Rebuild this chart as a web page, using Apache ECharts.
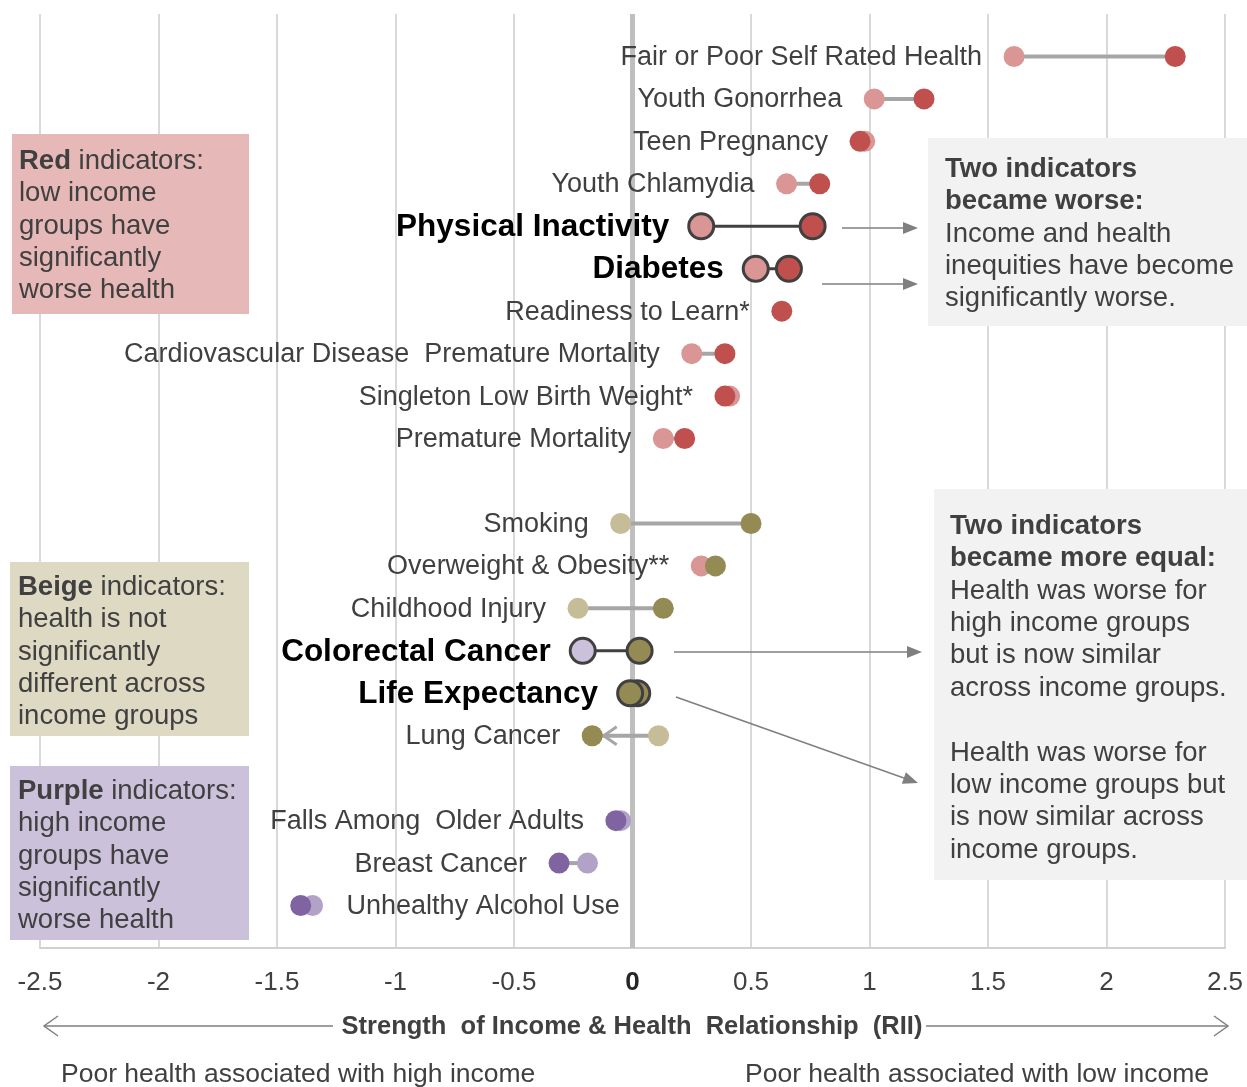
<!DOCTYPE html>
<html>
<head>
    <meta charset="utf-8">
    <title>Income & Health Relationship</title>
    <script src="https://cdn.jsdelivr.net/npm/echarts@6/dist/echarts.min.js"></script>
    <style>
        html, body { margin: 0; padding: 0; background: #fff; }
        #main { width: 1247px; height: 1087px; }
    </style>
</head>
<body>
<div id="main"></div>
<script type="text/javascript">
    // rows top to bottom, '' = empty gap row
    var indicators = ['Fair or Poor Self Rated Health', 'Youth Gonorrhea', 'Teen Pregnancy', 'Youth Chlamydia',
        'Physical Inactivity', 'Diabetes', 'Readiness to Learn*', 'Cardiovascular Disease  Premature Mortality',
        'Singleton Low Birth Weight*', 'Premature Mortality', '', 'Smoking', 'Overweight & Obesity**',
        'Childhood Injury', 'Colorectal Cancer', 'Life Expectancy', 'Lung Cancer', '',
        'Falls Among  Older Adults', 'Breast Cancer', 'Unhealthy Alcohol Use'];
    // RII, earlier period (light dot) and recent period (dark dot)
    var earlier = [1.61, 1.02, 0.98, 0.65, 0.29, 0.52, null, 0.25, 0.41, 0.13, null,
        -0.05, 0.29, -0.23, -0.21, 0.02, 0.11, null, -0.05, -0.19, -1.35];
    var recent = [2.29, 1.23, 0.96, 0.79, 0.76, 0.66, 0.63, 0.39, 0.39, 0.22, null,
        0.50, 0.35, 0.13, 0.03, -0.01, -0.17, null, -0.07, -0.31, -1.40];
    var earlierTone = ['redLight', 'redLight', 'redLight', 'redLight', 'redLight', 'redLight', null, 'redLight',
        'redLight', 'redLight', null, 'beigeLight', 'redLight', 'beigeLight', 'lilac', 'beigeDark', 'beigeLight',
        null, 'purpleLight', 'purpleLight', 'purpleLight'];
    var recentTone = ['redDark', 'redDark', 'redDark', 'redDark', 'redDark', 'redDark', 'redDark', 'redDark',
        'redDark', 'redDark', null, 'beigeDark', 'beigeDark', 'beigeDark', 'beigeDark', 'beigeDark', 'beigeDark',
        null, 'purpleDark', 'purpleDark', 'purpleDark'];
    var highlighted = ['Physical Inactivity', 'Diabetes', 'Colorectal Cancer', 'Life Expectancy'];
    var arrowRows = ['Lung Cancer'];
    var labelOnRight = ['Unhealthy Alcohol Use'];

    var palette = {
        redLight: '#d99694', redDark: '#c0504d',
        beigeLight: '#c4bd97', beigeDark: '#948a54',
        purpleLight: '#b3a2c7', purpleDark: '#8064a2', lilac: '#ccc1da'
    };
    var FONT = "'Liberation Sans', Arial, sans-serif";
    var TEXT = '#404040';

    var rows = [];
    indicators.forEach(function (name, i) {
        if (name) rows.push([recent[i] != null ? recent[i] : earlier[i], i]);
    });

    function renderRow(params, api) {
        var i = api.value(1);
        var name = indicators[i];
        var y = api.coord([0, i])[1];
        var bold = highlighted.indexOf(name) >= 0;
        var r = bold ? 12.5 : 10.5;
        var pts = [];
        if (earlier[i] != null) pts.push({x: api.coord([earlier[i], i])[0], tone: earlierTone[i]});
        if (recent[i] != null) pts.push({x: api.coord([recent[i], i])[0], tone: recentTone[i]});
        var children = [];
        if (pts.length === 2) {
            children.push({
                type: 'line',
                shape: {x1: pts[0].x, y1: y, x2: pts[1].x, y2: y},
                style: {stroke: bold ? '#404040' : '#a6a6a6', lineWidth: bold ? 3 : 4}
            });
            if (arrowRows.indexOf(name) >= 0) {
                var dir = pts[1].x > pts[0].x ? 1 : -1;
                var tip = pts[1].x - dir * (r + 1);
                children.push({
                    type: 'polyline',
                    shape: {points: [[tip - dir * 13, y - 9], [tip, y], [tip - dir * 13, y + 9]]},
                    style: {stroke: '#a6a6a6', lineWidth: 3, fill: null}
                });
            }
        }
        pts.forEach(function (p) {
            children.push({
                type: 'circle',
                shape: {cx: p.x, cy: y, r: r},
                style: {fill: palette[p.tone], stroke: bold ? '#404040' : null, lineWidth: bold ? 3 : 0}
            });
        });
        var xs = pts.map(function (p) { return p.x; });
        var right = labelOnRight.indexOf(name) >= 0;
        children.push({
            type: 'text',
            style: {
                text: name,
                x: right ? Math.max.apply(null, xs) + 34 : Math.min.apply(null, xs) - 32,
                y: y + 1,
                align: right ? 'left' : 'right',
                verticalAlign: 'middle',
                fontFamily: FONT,
                fontSize: bold ? 31.5 : 27,
                fontWeight: bold ? 'bold' : 'normal',
                fill: bold ? '#000' : TEXT
            }
        });
        return {type: 'group', children: children};
    }

    function boxText(x, y, text) {
        return {
            type: 'text', x: x, y: y, z: 101,
            style: {
                text: text, fontFamily: FONT, fontSize: 27.5, lineHeight: 32.4, fill: TEXT,
                verticalAlign: 'top',
                rich: {b: {fontFamily: FONT, fontSize: 27.5, lineHeight: 32.4, fontWeight: 'bold', fill: TEXT}}
            }
        };
    }

    function box(x, y, w, h, color) {
        return {type: 'rect', z: 100, shape: {x: x, y: y, width: w, height: h}, style: {fill: color}};
    }

    function arrow(x1, y1, x2, y2) {
        var a = Math.atan2(y2 - y1, x2 - x1), L = 15, W = 6;
        var bx = x2 - L * Math.cos(a), by = y2 - L * Math.sin(a);
        return [{
            type: 'line', z: 100, shape: {x1: x1, y1: y1, x2: bx, y2: by},
            style: {stroke: '#7f7f7f', lineWidth: 1.5}
        }, {
            type: 'polygon', z: 100,
            shape: {points: [[x2, y2], [bx - W * Math.sin(a), by + W * Math.cos(a)], [bx + W * Math.sin(a), by - W * Math.cos(a)]]},
            style: {fill: '#7f7f7f'}
        }];
    }

    var graphics = [
        box(12, 134, 237, 180, '#e6b9b8'),
        boxText(19, 145, '{b|Red} indicators:\nlow income\ngroups have\nsignificantly\nworse health'),
        box(10, 562, 239, 174, '#ddd9c3'),
        boxText(18, 571, '{b|Beige} indicators:\nhealth is not\nsignificantly\ndifferent across\nincome groups'),
        box(10, 766, 239, 174, '#ccc1da'),
        boxText(18, 775, '{b|Purple} indicators:\nhigh income\ngroups have\nsignificantly\nworse health'),
        box(928, 138, 319, 188, '#f2f2f2'),
        boxText(945, 153, '{b|Two indicators}\n{b|became worse:}\nIncome and health\ninequities have become\nsignificantly worse.'),
        box(934, 489, 313, 391, '#f2f2f2'),
        boxText(950, 510, '{b|Two indicators}\n{b|became more equal:}\nHealth was worse for\nhigh income groups\nbut is now similar\nacross income groups.\n\nHealth was worse for\nlow income groups but\nis now similar across\nincome groups.'),
        {
            type: 'text', x: 632, y: 1027, z: 100,
            style: {text: 'Strength  of Income & Health  Relationship  (RII)', fontFamily: FONT, fontSize: 25.5,
                fontWeight: 'bold', fill: TEXT, align: 'center', verticalAlign: 'middle'}
        },
        {type: 'line', z: 100, shape: {x1: 44, y1: 1026, x2: 333, y2: 1026}, style: {stroke: '#7f7f7f', lineWidth: 1.5}},
        {type: 'line', z: 100, shape: {x1: 926, y1: 1026, x2: 1228, y2: 1026}, style: {stroke: '#7f7f7f', lineWidth: 1.5}},
        {type: 'polyline', z: 100, shape: {points: [[58, 1016], [44, 1026], [58, 1036]]}, style: {stroke: '#7f7f7f', lineWidth: 1.5, fill: null}},
        {type: 'polyline', z: 100, shape: {points: [[1214, 1016], [1228, 1026], [1214, 1036]]}, style: {stroke: '#7f7f7f', lineWidth: 1.5, fill: null}},
        {
            type: 'text', x: 61, y: 1075, z: 100,
            style: {text: 'Poor health associated with high income', fontFamily: FONT, fontSize: 26.5, fill: TEXT, verticalAlign: 'middle'}
        },
        {
            type: 'text', x: 745, y: 1075, z: 100,
            style: {text: 'Poor health associated with low income', fontFamily: FONT, fontSize: 26.5, fill: TEXT, verticalAlign: 'middle'}
        }
    ]
        .concat(arrow(842, 228, 918, 228))
        .concat(arrow(822, 284, 918, 284))
        .concat(arrow(674, 652, 922, 652))
        .concat(arrow(676, 697, 918, 783));

    var myChart = echarts.init(document.getElementById('main'));
    var option = {
        animation: false,
        backgroundColor: '#fff',
        grid: {left: 40, right: 22, top: 14, bottom: 139},
        xAxis: {
            type: 'value', min: -2.5, max: 2.5, interval: 0.5,
            axisLine: {show: true, onZero: false, lineStyle: {color: '#d0d0d0', width: 2}},
            axisTick: {show: false},
            splitLine: {show: true, lineStyle: {color: '#d9d9d9', width: 2}},
            axisLabel: {
                margin: 22, fontFamily: FONT, fontSize: 26, color: TEXT,
                formatter: function (v) { return v === 0 ? '{z|0}' : String(v); },
                rich: {z: {fontFamily: FONT, fontSize: 26, fontWeight: 'bold', color: '#262626'}}
            }
        },
        yAxis: {type: 'value', min: -1, max: 21, inverse: true, show: false},
        series: [{
            type: 'line', z: 1, silent: true, showSymbol: false,
            data: [[0, -1], [0, 21]],
            lineStyle: {color: '#bfbfbf', width: 5}
        }, {
            type: 'custom', z: 3,
            renderItem: renderRow,
            encode: {x: 0, y: 1},
            data: rows
        }],
        graphic: graphics
    };
    myChart.setOption(option);
</script>
</body>
</html>
